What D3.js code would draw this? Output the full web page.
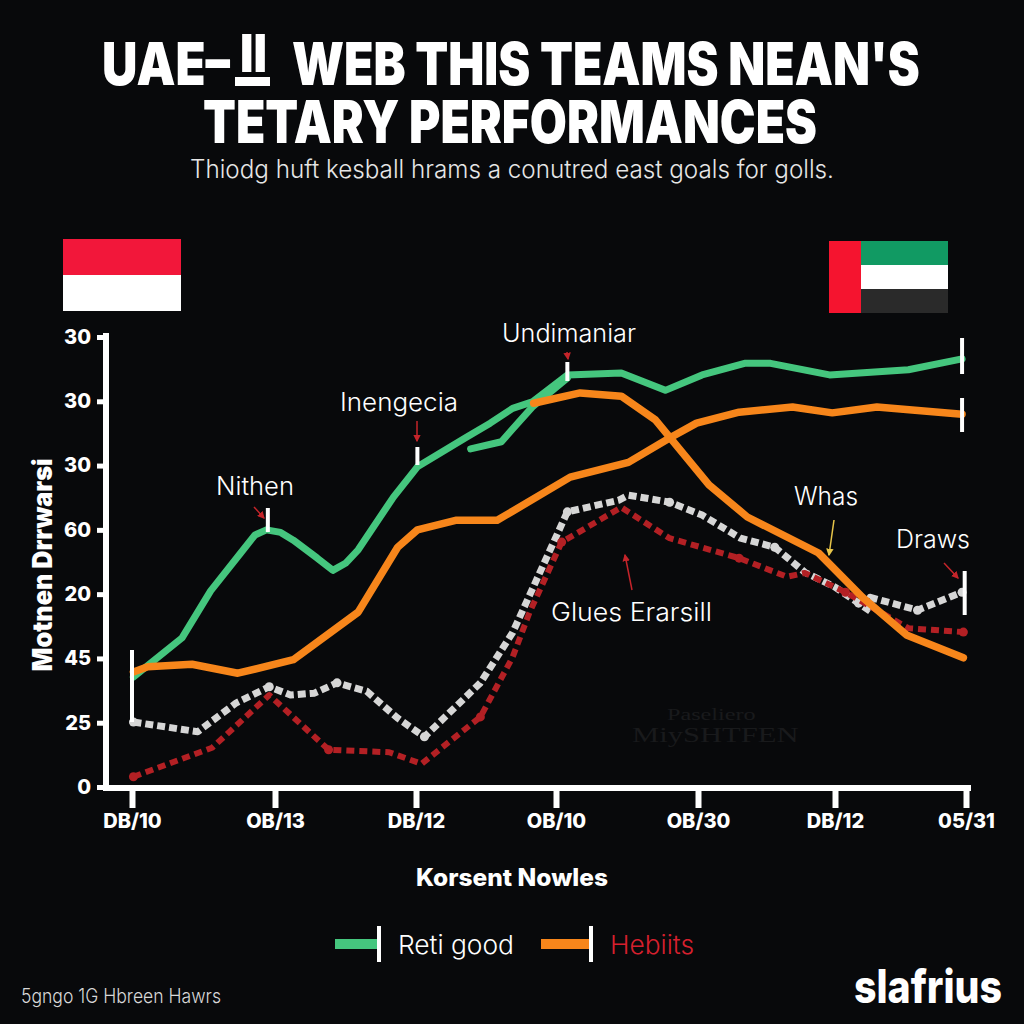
<!DOCTYPE html>
<html>
<head>
<meta charset="utf-8">
<script src="https://d3js.org/d3.v7.min.js"></script>
<style>
  html, body { margin: 0; padding: 0; background: #08090b; }
  svg { display: block; }
  text { font-family: Inter, Roboto, sans-serif; fill: #fff; }
</style>
</head>
<body>
<div id="chart"></div>
<script>
// tick labels (the y labels really do repeat)
var xTickLabels = ["DB/10", "OB/13", "DB/12", "OB/10", "OB/30", "DB/12", "05/31"];
var yTickLabels = ["0", "25", "45", "20", "60", "30", "30", "30"];

// series: x is measured in x tick steps, y in the axis units (10 per tick)
var greenX = [0.01, 0.35, 0.55, 0.76, 0.86, 0.94, 1.04, 1.13, 1.30, 1.41, 1.50, 1.59, 1.84, 2.01, 2.36, 2.53, 2.69, 2.83, 3.08, 3.46, 3.77, 4.03, 4.34, 4.53, 4.96, 5.56, 5.97];
var greenY = [17.1, 23.2, 30.5, 36.4, 39.2, 40.0, 39.6, 38.4, 35.6, 33.7, 34.8, 36.9, 45.1, 49.8, 54.4, 56.6, 58.9, 59.9, 64.1, 64.4, 61.7, 64.1, 65.9, 65.9, 64.1, 64.9, 66.6];

var greenBranchX = [2.39, 2.61, 2.69, 2.83, 3.08];
var greenBranchY = [52.6, 53.7, 55.7, 59.1, 63.6];

var orangeX = [0.01, 0.11, 0.42, 0.74, 1.13, 1.59, 1.87, 2.01, 2.29, 2.58, 2.69, 3.10, 3.51, 3.80, 3.99, 4.30, 4.69, 4.98, 5.32, 5.97];
var orangeY = [17.9, 18.7, 19.1, 17.7, 19.8, 27.2, 37.3, 40.0, 41.5, 41.5, 42.9, 48.2, 50.5, 54.3, 56.6, 58.3, 59.1, 58.2, 59.1, 58.0];

var orangeFallX = [2.84, 3.17, 3.46, 3.70, 4.08, 4.36, 4.88, 5.21, 5.55, 5.98];
var orangeFallY = [59.7, 61.3, 60.8, 57.1, 47.0, 42.0, 36.4, 29.5, 23.6, 20.1];

var greyX = [0.01, 0.46, 0.73, 0.96, 1.11, 1.28, 1.44, 1.65, 1.87, 2.06, 2.46, 2.69, 3.08, 3.44, 3.51, 3.80, 4.03, 4.31, 4.56, 4.78, 5.00, 5.18, 5.28, 5.27, 5.63, 5.97];
var greyY = [10.1, 8.6, 13.1, 15.6, 14.3, 14.6, 16.2, 14.9, 10.7, 7.8, 16.2, 24.0, 42.8, 44.6, 45.4, 44.3, 42.3, 38.7, 37.3, 33.4, 31.1, 28.6, 27.2, 29.5, 27.5, 30.3];

var redX = [0.01, 0.56, 0.96, 1.38, 1.81, 2.04, 2.46, 2.69, 2.81, 3.04, 3.46, 3.80, 4.30, 4.65, 4.78, 5.08, 5.56, 5.98];
var redY = [1.6, 6.1, 14.3, 5.8, 5.4, 3.6, 10.9, 20.2, 27.1, 38.1, 43.5, 38.7, 35.6, 32.7, 33.3, 30.3, 24.7, 24.1];

var svg = d3.select("#chart").append("svg")
  .attr("width", 1024)
  .attr("height", 1024);

svg.append("rect").attr("width", 1024).attr("height", 1024).attr("fill", "#08090b");

// x ticks are not quite evenly spaced in the picture, hence the piecewise range
var x = d3.scaleLinear().domain([0, 1, 2, 3, 4, 5, 6]).range([132, 275, 416, 556, 698, 835, 966]);
var y = d3.scaleLinear().domain([0, 70]).range([787, 337]);

function zip(xs, ys) {
  return xs.map(function(d, i) { return [d, ys[i]]; });
}

// fitted text: squeeze horizontally so it spans the same width as in the reference
function label(txt, left, base, width, size, weight, color) {
  var t = svg.append("text")
    .attr("font-size", size)
    .attr("font-weight", weight)
    .style("fill", color || "#fff")
    .text(txt);
  var k = width / t.node().getComputedTextLength();
  t.attr("transform", "translate(" + left + "," + base + ") scale(" + k + ",1)");
  return t;
}

// title block, first line is in pieces because of the tall underlined II
label("UAE\u2013", 102, 85, 128, 59, 900);
label("II", 240, 72, 27, 52, 900);
svg.append("rect").attr("x", 235).attr("y", 77).attr("width", 35).attr("height", 9).attr("fill", "#fff");
label("WEB THIS TEAMS NEAN'S", 292, 85, 628, 59, 900);
label("TETARY PERFORMANCES", 203, 143, 614, 59, 900);
label("Thiodg huft kesball hrams a conutred east goals for golls.", 190, 178, 644, 25, 300, "#e6e6e6");

// flags
var flagL = svg.append("g");
flagL.append("rect").attr("x", 63).attr("y", 239).attr("width", 118).attr("height", 36).attr("fill", "#f2173a");
flagL.append("rect").attr("x", 63).attr("y", 275).attr("width", 118).attr("height", 36).attr("fill", "#ffffff");

var flagR = svg.append("g");
flagR.append("rect").attr("x", 861).attr("y", 241).attr("width", 87).attr("height", 24).attr("fill", "#119a63");
flagR.append("rect").attr("x", 861).attr("y", 265).attr("width", 87).attr("height", 24).attr("fill", "#ffffff");
flagR.append("rect").attr("x", 861).attr("y", 289).attr("width", 87).attr("height", 24).attr("fill", "#2a2a2a");
flagR.append("rect").attr("x", 829).attr("y", 241).attr("width", 32).attr("height", 72).attr("fill", "#f5142f");

// faint watermark in the plot
label("Paseliero", 667, 720, 105, 17, 400, "#191a1c").style("font-family", "Liberation Serif");
label("MiySHTFEN", 632, 742, 174, 22, 400, "#191a1c").style("font-family", "Liberation Serif");

// axes
var yAxis = d3.axisLeft(y)
  .tickValues(d3.range(0, 80, 10))
  .tickFormat(function(d, i) { return yTickLabels[i]; })
  .tickSize(9)
  .tickPadding(6);

var xAxis = d3.axisBottom(x)
  .tickValues(d3.range(0, 7))
  .tickFormat(function(d, i) { return xTickLabels[i]; })
  .tickSize(20)
  .tickPadding(6);

var gy = svg.append("g").attr("transform", "translate(106,0)").call(yAxis);
gy.select(".domain").remove();
gy.selectAll("line").attr("stroke", "#fff").attr("stroke-width", 5);
gy.selectAll("text").attr("font-size", 20).attr("font-weight", 800);
gy.append("line").attr("x1", 0).attr("x2", 0).attr("y1", 333).attr("y2", 791)
  .attr("stroke", "#fff").attr("stroke-width", 6);

var gx = svg.append("g").attr("transform", "translate(0,788)").call(xAxis);
gx.select(".domain").remove();
gx.selectAll("line").attr("stroke", "#fff").attr("stroke-width", 6);
gx.selectAll("text").attr("font-size", 20).attr("font-weight", 800);
gx.append("line").attr("x1", 103).attr("x2", 971).attr("y1", 0).attr("y2", 0)
  .attr("stroke", "#fff").attr("stroke-width", 6);

svg.append("text")
  .attr("transform", "translate(52,565) rotate(-90)")
  .attr("text-anchor", "middle")
  .attr("font-size", 27)
  .attr("font-weight", 900)
  .attr("textLength", 213)
  .attr("lengthAdjust", "spacingAndGlyphs")
  .text("Motnen Drrwarsi");

label("Korsent Nowles", 416, 886, 192, 24, 800);

// lines
var line = d3.line()
  .x(function(d) { return x(d[0]); })
  .y(function(d) { return y(d[1]); });

function dotted(pts, color, w, dash) {
  svg.append("path")
    .attr("d", line(pts))
    .attr("fill", "none")
    .attr("stroke", color)
    .attr("stroke-width", w)
    .attr("stroke-dasharray", dash)
    .attr("stroke-linejoin", "round");
  // round blobs where the dashed lines turn
  svg.append("g").selectAll("circle")
    .data(pts.filter(function(d, i) { return i == 0 || i == pts.length - 1 || i % 3 == 0; }))
    .join("circle")
    .attr("cx", function(d) { return x(d[0]); })
    .attr("cy", function(d) { return y(d[1]); })
    .attr("r", 4.5)
    .attr("fill", color);
}

function solid(pts, color, w) {
  svg.append("path")
    .attr("d", line(pts))
    .attr("fill", "none")
    .attr("stroke", color)
    .attr("stroke-width", w)
    .attr("stroke-linecap", "round")
    .attr("stroke-linejoin", "round");
}

dotted(zip(greyX, greyY), "#d6d6d6", 7, "8 4");
dotted(zip(redX, redY), "#b32024", 6, "8 5");
solid(zip(greenX, greenY), "#45c67e", 7);
solid(zip(greenBranchX, greenBranchY), "#45c67e", 7);
solid(zip(orangeX, orangeY), "#f7861b", 7.5);
solid(zip(orangeFallX, orangeFallY), "#f7861b", 7.5);

// white marker bars on the lines
var bars = [[0, 650, 722, 4], [0.95, 508, 532, 4], [2.01, 447, 465, 4], [3.08, 362, 381, 4], [5.97, 338, 374, 4], [5.97, 398, 432, 4], [5.99, 571, 615, 4]];
svg.append("g").selectAll("line")
  .data(bars)
  .join("line")
  .attr("x1", function(d) { return x(d[0]); })
  .attr("x2", function(d) { return x(d[0]); })
  .attr("y1", function(d) { return d[1]; })
  .attr("y2", function(d) { return d[2]; })
  .attr("stroke", "#fff")
  .attr("stroke-width", function(d) { return d[3]; });

// annotations
label("Nithen", 216, 495, 78, 25, 300);
label("Inengecia", 340, 411, 118, 25, 300);
label("Undimaniar", 502, 342, 134, 25, 300);
label("Whas", 794, 505, 64, 25, 300);
label("Draws", 896, 548, 74, 25, 300);
label("Glues Erarsill", 551, 621, 161, 25, 300);

svg.append("defs").selectAll("marker")
  .data(["#c4242a", "#e8c64a"])
  .join("marker")
  .attr("id", function(d, i) { return "arrow" + i; })
  .attr("viewBox", "0 0 6 6")
  .attr("refX", 5)
  .attr("refY", 3)
  .attr("markerWidth", 5)
  .attr("markerHeight", 5)
  .attr("orient", "auto")
  .append("path")
  .attr("d", "M0,0L6,3L0,6z")
  .attr("fill", function(d) { return d; });

var arrows = [
  [254, 507, 264, 518, 0],
  [417, 421, 417, 441, 0],
  [567, 352, 568, 359, 0],
  [632, 590, 625, 555, 0],
  [944, 563, 958, 578, 0],
  [834, 520, 829, 555, 1]
];
svg.append("g").selectAll("line")
  .data(arrows)
  .join("line")
  .attr("x1", function(d) { return d[0]; })
  .attr("y1", function(d) { return d[1]; })
  .attr("x2", function(d) { return d[2]; })
  .attr("y2", function(d) { return d[3]; })
  .attr("stroke", function(d) { return d[4] ? "#e8c64a" : "#c4242a"; })
  .attr("stroke-width", 1.5)
  .attr("marker-end", function(d) { return "url(#arrow" + d[4] + ")"; });

// legend
svg.append("rect").attr("x", 335).attr("y", 939).attr("width", 44).attr("height", 10).attr("fill", "#45c67e");
svg.append("rect").attr("x", 377).attr("y", 926).attr("width", 4).attr("height", 36).attr("fill", "#fff");
label("Reti good", 398, 954, 116, 26, 300);
svg.append("rect").attr("x", 541).attr("y", 939).attr("width", 50).attr("height", 10).attr("fill", "#f7861b");
svg.append("rect").attr("x", 589).attr("y", 926).attr("width", 4).attr("height", 36).attr("fill", "#fff");
label("Hebiits", 610, 954, 84, 26, 300, "#d6202e");

// footer
label("5gngo 1G Hbreen Hawrs", 21, 1003, 200, 20, 300, "#d8d8d8");
label("slafrius", 854, 1003, 148, 46, 800);
</script>
</body>
</html>
